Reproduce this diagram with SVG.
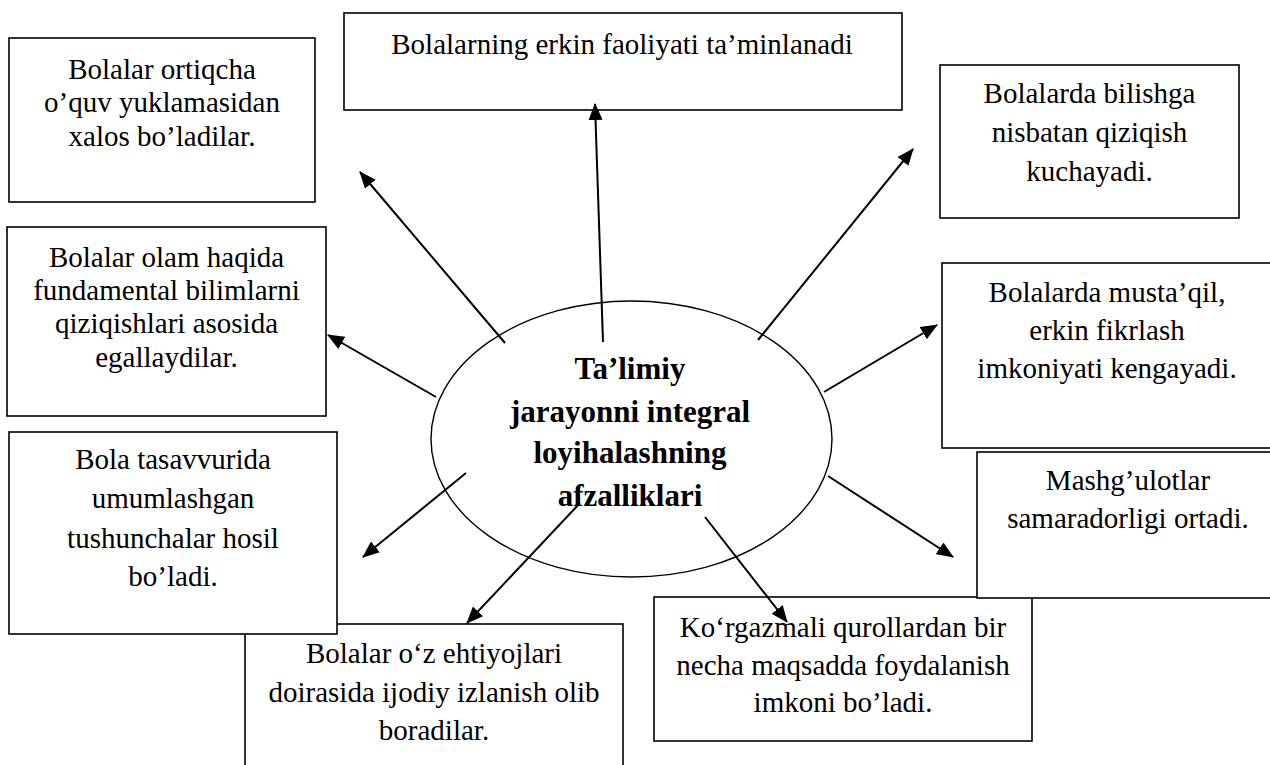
<svg xmlns="http://www.w3.org/2000/svg" width="1270" height="765" viewBox="0 0 1270 765">
<style>
.box{fill:#fff;stroke:#000;stroke-width:1.6}
.t{font-family:"Liberation Serif","Times New Roman",serif;font-size:29px;fill:#000;text-anchor:middle}
.tb{font-family:"Liberation Serif","Times New Roman",serif;font-size:31px;font-weight:bold;fill:#000;text-anchor:middle}
.c{stroke:#000;stroke-width:2;fill:none;marker-end:url(#ah)}
</style>
<defs>
<marker id="ah" markerUnits="userSpaceOnUse" markerWidth="17" markerHeight="14" refX="16" refY="7" orient="auto" viewBox="0 0 17 14">
<path d="M0,0 L17,7 L0,14 Z" fill="#000"/>
</marker>
</defs>
<rect width="1270" height="765" fill="#fff"/>
<g id="nodeF">
<rect class="box" x="245" y="624" width="378" height="150"/>
<text class="t" x="434" y="663">Bolalar o‘z ehtiyojlari</text>
<text class="t" x="434" y="702">doirasida ijodiy izlanish olib</text>
<text class="t" x="434" y="740">boradilar.</text>
</g>
<g id="nodeE">
<rect class="box" x="9" y="432" width="328" height="202"/>
<text class="t" x="173" y="469">Bola tasavvurida</text>
<text class="t" x="173" y="508">umumlashgan</text>
<text class="t" x="173" y="548">tushunchalar hosil</text>
<text class="t" x="173" y="586">bo’ladi.</text>
</g>
<g id="nodeH">
<rect class="box" x="654" y="597" width="378" height="144"/>
<text class="t" x="843" y="637">Ko‘rgazmali qurollardan bir</text>
<text class="t" x="843" y="675">necha maqsadda foydalanish</text>
<text class="t" x="843" y="712">imkoni bo’ladi.</text>
</g>
<g id="nodeI">
<rect class="box" x="977" y="452" width="303" height="146"/>
<text class="t" x="1128" y="490">Mashg’ulotlar</text>
<text class="t" x="1128" y="528">samaradorligi ortadi.</text>
</g>
<g id="nodeA">
<rect class="box" x="9" y="38" width="306" height="164"/>
<text class="t" x="162" y="79">Bolalar ortiqcha</text>
<text class="t" x="162" y="112">o’quv yuklamasidan</text>
<text class="t" x="162" y="146">xalos bo’ladilar.</text>
</g>
<g id="nodeB">
<rect class="box" x="344" y="13" width="558" height="97"/>
<text class="t" x="622" y="54">Bolalarning erkin faoliyati ta’minlanadi</text>
</g>
<g id="nodeC">
<rect class="box" x="940" y="65" width="299" height="153"/>
<text class="t" x="1089.5" y="103">Bolalarda bilishga</text>
<text class="t" x="1089.5" y="142">nisbatan qiziqish</text>
<text class="t" x="1089.5" y="181">kuchayadi.</text>
</g>
<g id="nodeD">
<rect class="box" x="7" y="227" width="319" height="189"/>
<text class="t" x="166.5" y="267">Bolalar olam haqida</text>
<text class="t" x="166.5" y="300">fundamental bilimlarni</text>
<text class="t" x="166.5" y="333">qiziqishlari asosida</text>
<text class="t" x="166.5" y="367">egallaydilar.</text>
</g>
<g id="nodeG">
<rect class="box" x="942" y="263" width="330" height="185"/>
<text class="t" x="1107" y="302">Bolalarda musta’qil,</text>
<text class="t" x="1107" y="340">erkin fikrlash</text>
<text class="t" x="1107" y="378">imkoniyati kengayadi.</text>
</g>
<g id="center">
<ellipse cx="631.5" cy="439" rx="200.5" ry="138" fill="#fff" stroke="#000" stroke-width="1.4"/>
<text class="tb" x="630" y="379">Ta’limiy</text>
<text class="tb" x="630" y="422">jarayonni integral</text>
<text class="tb" x="630" y="463">loyihalashning</text>
<text class="tb" x="630" y="506">afzalliklari</text>
</g>
<g id="connectors">
<line class="c" x1="505" y1="343" x2="360" y2="172"/>
<line class="c" x1="603" y1="342" x2="595" y2="104"/>
<line class="c" x1="758" y1="340" x2="913" y2="149"/>
<line class="c" x1="436" y1="397" x2="328" y2="335"/>
<line class="c" x1="824" y1="392" x2="937" y2="325"/>
<line class="c" x1="466" y1="473" x2="363" y2="557"/>
<line class="c" x1="580" y1="503" x2="467" y2="623"/>
<line class="c" x1="705" y1="517" x2="787" y2="622"/>
<line class="c" x1="828" y1="476" x2="953" y2="557"/>
</g>
</svg>
